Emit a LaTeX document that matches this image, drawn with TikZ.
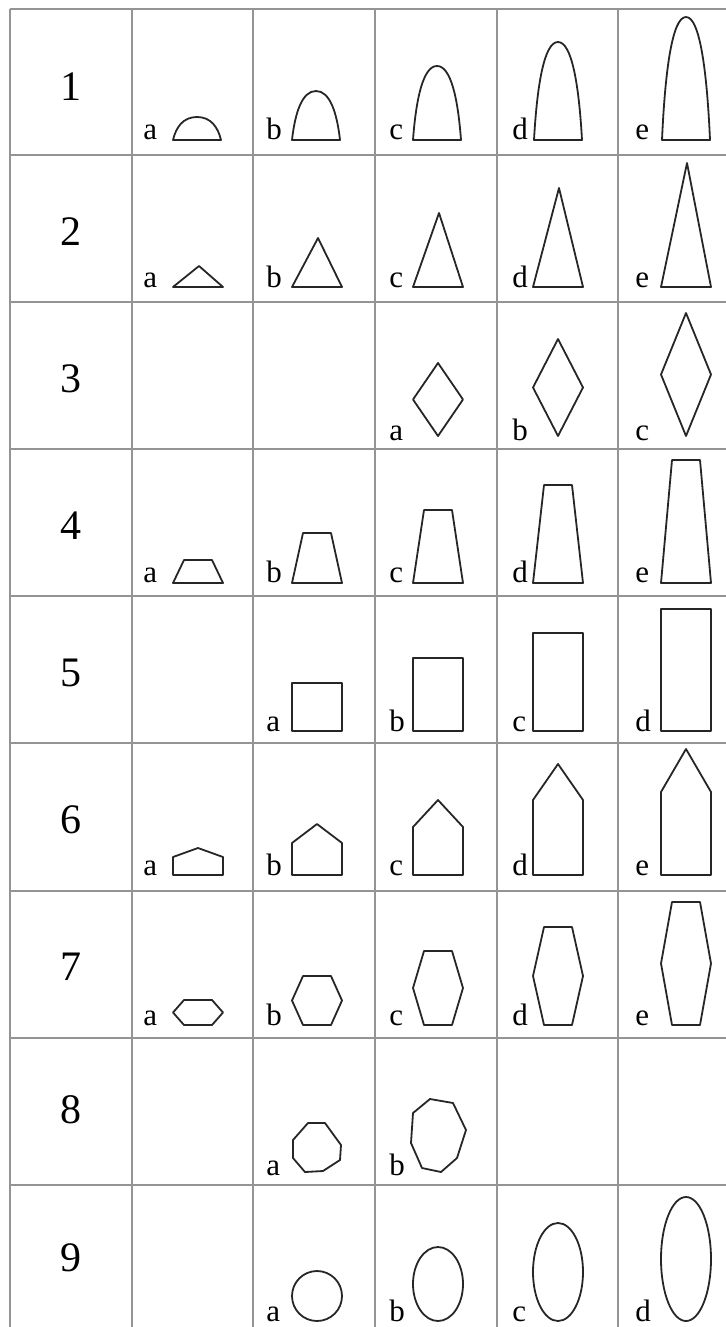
\documentclass[tikz,border=0pt]{standalone}
\usepackage{fontspec}
\setmainfont{Liberation Serif}
\usetikzlibrary{positioning}

\begin{document}
\begin{tikzpicture}[
        x=0.5pt, y=-0.5pt,
        gitter/.style={draw=black!42, line width=0.6pt},
        umriss/.style={draw=black!85, line width=0.9pt, line join=round},
        ziffer/.style={inner sep=0pt, font=\fontsize{21}{21}\selectfont},
        buchstabe/.style={inner sep=0pt, anchor=base west, font=\fontsize{15.5}{16}\selectfont}
    ]
        \useasboundingbox (0,0) rectangle (726,1327);

        % Tabelle
        \foreach \x in {10,132,253,375,497,618} \draw[gitter] (\x,9) -- (\x,1327);
        \foreach \y in {9,155,302,449,596,743,891,1038,1185} \draw[gitter] (10,\y) -- (726,\y);

        % Zeilennummern
        \foreach \n/\y in {1/87,2/232,3/379,4/526,5/673,6/820,7/967,8/1110,9/1258}
            \node[ziffer] (zahl\n) at (71,\y) {\n};

        % Buchstaben
        \foreach \b/\x in {a/143,b/266,c/389,d/512,e/635} {
            \node[buchstabe] (r1\b) at (\x,140) {\b};
            \node[buchstabe] (r2\b) at (\x,287) {\b};
            \node[buchstabe] (r4\b) at (\x,582) {\b};
            \node[buchstabe] (r6\b) at (\x,875) {\b};
            \node[buchstabe] (r7\b) at (\x,1025) {\b};
        }
        \foreach \b/\x in {a/389,b/512,c/635} \node[buchstabe] (r3\b) at (\x,440) {\b};
        \foreach \b/\x in {a/266,b/389,c/512,d/635} {
            \node[buchstabe] (r5\b) at (\x,731) {\b};
            \node[buchstabe] (r9\b) at (\x,1321) {\b};
        }
        \foreach \b/\x in {a/266,b/389} \node[buchstabe] (r8\b) at (\x,1175) {\b};

        % 1: Boegen
        \foreach \x/\t in {173/117,292/91,413/66,534/42,662/17}
            \draw[umriss] (\x,140) .. controls ({\x+3},{140-0.55*(140-\t)}) and ({\x+10},\t) .. ({\x+24},\t)
                .. controls ({\x+38},\t) and ({\x+45},{140-0.55*(140-\t)}) .. ({\x+48},140) -- cycle;

        % 2: Dreiecke
        \foreach \x/\t in {173/266,292/238,413/213,533/188,661/163}
            \draw[umriss] (\x,287) -- ({\x+26},\t) -- ({\x+50},287) -- cycle;

        % 3: Rauten
        \foreach \x/\t in {438/363,558/339,686/313}
            \draw[umriss] (\x,\t) -- ({\x+25},{(\t+436)/2}) -- (\x,436) -- ({\x-25},{(\t+436)/2}) -- cycle;

        % 4: Trapeze
        \foreach \x/\t in {173/560,292/533,413/510,533/485,661/460}
            \draw[umriss] (\x,583) -- ({\x+11},\t) -- ({\x+39},\t) -- ({\x+50},583) -- cycle;

        % 5: Rechtecke
        \foreach \x/\t in {292/683,413/658,533/633,661/609}
            \draw[umriss] (\x,731) rectangle ({\x+50},\t);

        % 6: Haeuser
        \foreach \x/\s/\t in {173/857/848,292/843/824,413/827/800,533/800/764,661/792/749}
            \draw[umriss] (\x,875) -- (\x,\s) -- ({\x+25},\t) -- ({\x+50},\s) -- ({\x+50},875) -- cycle;

        % 7: Sechsecke
        \foreach \x/\t in {173/1000,292/976,413/951,533/927,661/902}
            \draw[umriss] ({\x+11},1025) -- (\x,{(\t+1025)/2}) -- ({\x+11},\t) -- ({\x+39},\t)
                -- ({\x+50},{(\t+1025)/2}) -- ({\x+39},1025) -- cycle;

        % 8: Achtecke
        \draw[umriss] (308,1123) -- (325,1123) -- (341,1145) -- (340,1160) -- (323,1171)
            -- (305,1172) -- (293,1158) -- (293,1140) -- cycle;
        \draw[umriss] (413,1113) -- (430,1099) -- (453,1103) -- (466,1130) -- (457,1158)
            -- (441,1172) -- (422,1168) -- (411,1143) -- cycle;

        % 9: Ellipsen
        \foreach \x/\y/\r in {317/1296/25,438/1284/37,558/1272/49,686/1259/62}
            \draw[umriss] (\x,\y) ellipse [x radius=25, y radius=\r];
    \end{tikzpicture}
\end{document}
